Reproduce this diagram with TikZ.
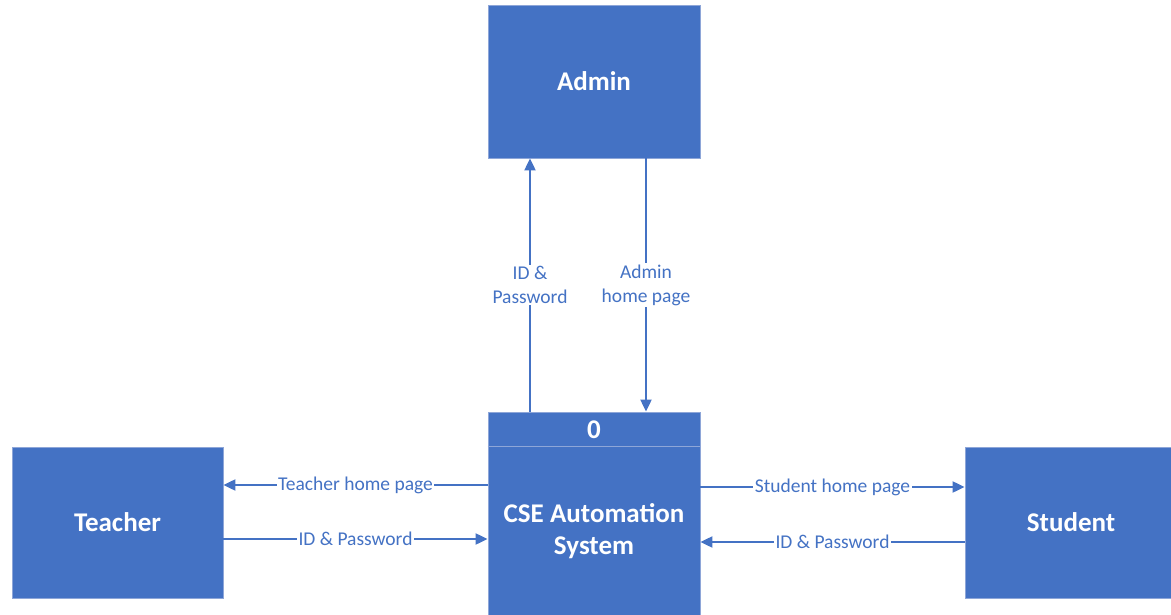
\documentclass[tikz,border=0pt]{standalone}
\usepackage{fontspec}
\setmainfont{Carlito}
\usetikzlibrary{arrows.meta,positioning}
\definecolor{dfdblue}{HTML}{4472C4}
\definecolor{dfdedge}{HTML}{8EA6D8}

\begin{document}
\begin{tikzpicture}[x=1pt,y=-1pt]
  \tikzset{
    >={Triangle[width=11pt,length=12pt]},
    box/.style={rectangle, fill=dfdblue, draw=dfdedge, line width=0.8pt,
          text=white, font=\fontsize{27}{32}\selectfont\bfseries,
          align=center, inner sep=0pt},
    boxtext/.style={text=white, font=\fontsize{27}{32}\selectfont\bfseries,
          align=center, inner sep=0pt},
    flow/.style={draw=dfdblue, line width=2pt},
    lbl/.style={fill=white, text=dfdblue, inner sep=1.5pt, align=center,
          font=\fontsize{19.5}{24}\selectfont}
  }
  \useasboundingbox (0,0) rectangle (1171,615);

  \node[box, minimum width=212pt, minimum height=153pt] (admin) at (594,81.5) {Admin};
  \node[box, minimum width=212pt, minimum height=206pt] (sys) at (594,515) {};
  \node[box, minimum width=211pt, minimum height=151pt] (teacher) at (117.5,522.5) {Teacher};
  \node[box, minimum width=212pt, minimum height=151pt] (student) at (1071,522.5) {Student};

  \node[boxtext] (num) at ([yshift=-18pt]sys.north) {0};
  \node[boxtext] (sysname) at ([yshift=-16pt]sys.center) {CSE Automation\\System};
  \draw[dfdedge, line width=0.8pt] ([yshift=-35pt]sys.north west) -- ([yshift=-35pt]sys.north east);

  \draw[flow,->] ([xshift=-64pt]sys.north) -- ([xshift=-64pt]admin.south)
        node[midway,lbl] {ID \&\\Password};
  \draw[flow,->] ([xshift=52pt]admin.south) -- ([xshift=52pt]sys.north)
        node[midway,lbl] {Admin\\home page};

  \draw[flow,<-] ([yshift=37.5pt]teacher.east) -- ([yshift=37.5pt]teacher.east -| sys.west)
        node[midway,lbl] {Teacher home page};
  \draw[flow,->] ([yshift=-16.5pt]teacher.east) -- ([yshift=-16.5pt]teacher.east -| sys.west)
        node[midway,lbl] {ID \& Password};

  \draw[flow,->] ([yshift=35.5pt]student.west -| sys.east) -- ([yshift=35.5pt]student.west)
        node[midway,lbl] {Student home page};
  \draw[flow,<-] ([yshift=-19.5pt]student.west -| sys.east) -- ([yshift=-19.5pt]student.west)
        node[midway,lbl] {ID \& Password};
\end{tikzpicture}
\end{document}
